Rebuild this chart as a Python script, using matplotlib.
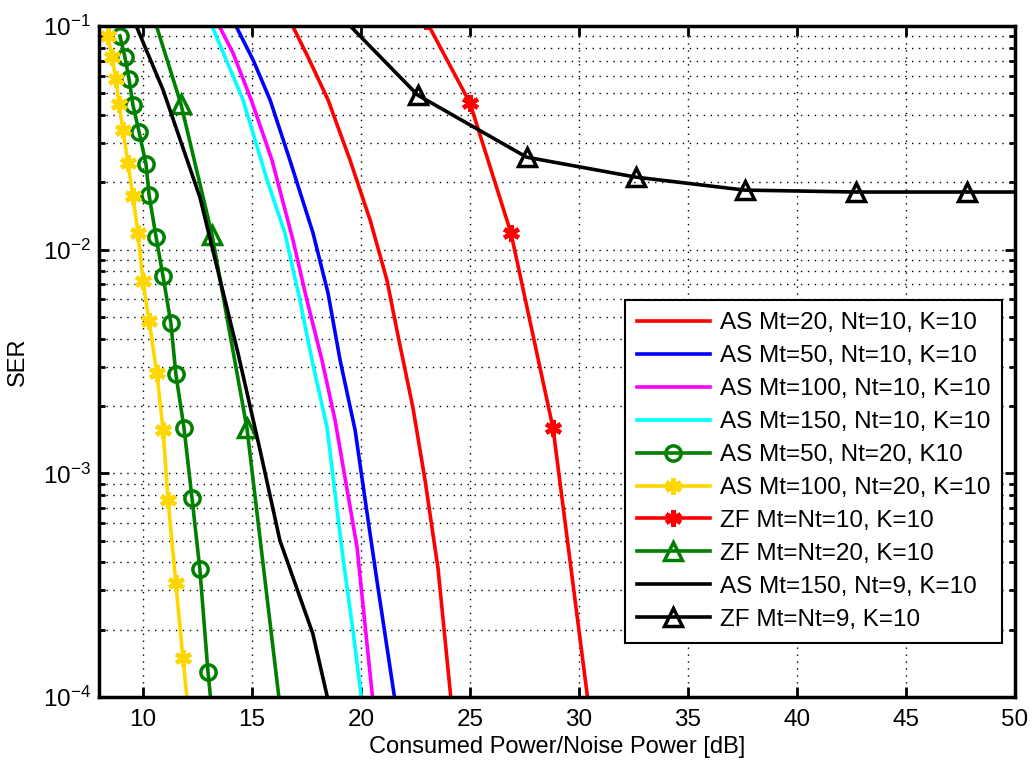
import matplotlib
matplotlib.use("Agg")
import matplotlib.pyplot as plt

# data ------------------------------------------------------------------
# AS curves, Nt=10, K=10
as20_x = [16.82, 17.57, 18.49, 19.50, 20.42, 21.19, 21.74, 22.38, 22.94, 23.39, 23.53, 24.14]
as20_y = [0.102, 0.0726, 0.0467, 0.0251, 0.01355, 0.00731, 0.00394, 0.00197, 0.00093, 0.000467, 0.000379, 9.5e-5]

as50_x = [14.22, 15.05, 15.83, 16.74, 17.80, 18.49, 19.04, 19.73, 20.28, 20.73, 21.57]
as50_y = [0.102, 0.0705, 0.0467, 0.0251, 0.01186, 0.00638, 0.00321, 0.00156, 0.000662, 0.000332, 9.5e-5]

as100_x = [13.45, 14.13, 15.00, 15.92, 16.88, 17.52, 18.21, 18.81, 19.82, 20.18, 20.55]
as100_y = [0.102, 0.0757, 0.0457, 0.0251, 0.01104, 0.00594, 0.00321, 0.00173, 0.000467, 0.000213, 9.5e-5]

as150_x = [13.13, 14.59, 15.05, 15.69, 16.51, 17.20, 17.75, 18.44, 19.17, 19.63, 20.04]
as150_y = [0.102, 0.0467, 0.0332, 0.0205, 0.01186, 0.00594, 0.00321, 0.00161, 0.000421, 0.000199, 9.5e-5]

# AS Mt=50, Nt=20
as50nt20_x = [8.94, 9.17, 9.36, 9.54, 9.82, 10.14, 10.28, 10.60, 10.92, 11.28, 11.51, 11.88, 12.25, 12.61, 12.98, 13.2]
as50nt20_y = [0.0902, 0.0727, 0.0579, 0.0443, 0.0336, 0.0241, 0.01754, 0.01138, 0.0076, 0.00469,
              0.00277, 0.0016, 0.000773, 0.000372, 0.00013, 7.9e-5]

# AS Mt=100, Nt=20
as100nt20_x = [8.39, 8.58, 8.76, 8.90, 9.08, 9.31, 9.54, 9.77, 10.0, 10.28, 10.64, 10.92, 11.15, 11.51, 11.83, 12.2]
as100nt20_y = [0.0902, 0.0727, 0.0579, 0.0448, 0.0343, 0.0244, 0.0173, 0.01186, 0.00723, 0.00479,
               0.0028, 0.00157, 0.000757, 0.000322, 0.00015, 6.6e-5]

# ZF curves
zf10_x = [23.0, 25.0, 26.88, 28.81, 30.7]
zf10_y = [0.105, 0.0452, 0.01186, 0.00159, 5.8e-5]

zf20_x = [10.2, 11.74, 13.17, 14.77, 16.35]
zf20_y = [0.135, 0.0448, 0.01161, 0.00159, 8e-5]

as150nt9_x = [9.6, 10.92, 12.61, 14.36, 15.37, 16.28, 17.79, 18.75]
as150nt9_y = [0.105, 0.0518, 0.01718, 0.00344, 0.00127, 0.000501, 0.000192, 7.5e-5]

zf9_x = [17.6, 22.6, 27.6, 32.6, 37.6, 42.7, 47.8, 52.9]
zf9_y = [0.155, 0.0491, 0.0259, 0.0211, 0.01846, 0.0181, 0.0181, 0.0181]

x_ticks = [10, 15, 20, 25, 30, 35, 40, 45, 50]

#------------------------------------------------------------------------
plt.rcParams['font.family'] = ['Liberation Sans', 'DejaVu Sans']
plt.rcParams['mathtext.default'] = 'regular'

fig = plt.figure(figsize=(10.33, 7.64), dpi=100)
ax = fig.add_axes([0.0962, 0.0877, 0.8864, 0.8783])

lw = 2.6
gold = '#FFD700'
green = '#008000'
ax.plot(as20_x, as20_y, color='red', lw=lw, label='AS Mt=20, Nt=10, K=10')
ax.plot(as50_x, as50_y, color='blue', lw=lw, label='AS Mt=50, Nt=10, K=10')
ax.plot(as100_x, as100_y, color='magenta', lw=lw, label='AS Mt=100, Nt=10, K=10')
ax.plot(as150_x, as150_y, color='cyan', lw=lw, label='AS Mt=150, Nt=10, K=10')
ax.plot(as50nt20_x, as50nt20_y, color=green, lw=lw, marker='o', ms=11, mfc='none', mew=2.5,
        label='AS Mt=50, Nt=20, K10')
ax.plot(as100nt20_x, as100nt20_y, color=gold, lw=lw, marker=(6, 2, 0), ms=12, mew=3.2,
        label='AS Mt=100, Nt=20, K=10')
ax.plot(zf10_x, zf10_y, color='red', lw=lw, marker=(6, 2, 0), ms=12, mew=3.2,
        label='ZF Mt=Nt=10, K=10')
ax.plot(zf20_x, zf20_y, color=green, lw=lw, marker='^', ms=13, mfc='none', mew=2.5,
        label='ZF Mt=Nt=20, K=10')
ax.plot(as150nt9_x, as150nt9_y, color='black', lw=lw, label='AS Mt=150, Nt=9, K=10')
ax.plot(zf9_x, zf9_y, color='black', lw=lw, marker='^', ms=13, mfc='none', mew=2.5,
        label='ZF Mt=Nt=9, K=10')

ax.set_yscale('log')
ax.set_xlim(8, 50)
ax.set_ylim(1e-4, 1e-1)
ax.set_xticks(x_ticks)

# matlab style dotted grid
ax.grid(True, which='major', axis='both', color='k', linestyle=(0, (1, 4)), linewidth=1.0)
ax.grid(True, which='minor', axis='y', color='k', linestyle=(0, (1, 4)), linewidth=1.0)

ax.tick_params(which='both', direction='in', top=True, right=True, labelsize=17.5, width=2)
ax.tick_params(which='major', length=7)
ax.tick_params(which='minor', length=4)
ax.tick_params(axis='x', pad=9)
ax.tick_params(axis='y', pad=6)
for s in ax.spines.values():
    s.set_linewidth(2.5)

ax.set_xlabel('Consumed Power/Noise Power [dB]', fontsize=17, labelpad=3)
ax.set_ylabel('SER', fontsize=17, labelpad=10)

leg = ax.legend(loc='lower right', bbox_to_anchor=(0.986, 0.0805), fontsize=17.5, frameon=True,
                fancybox=False, edgecolor='k', framealpha=1, handlelength=3.0,
                handletextpad=0.4, borderpad=0.5, labelspacing=0.45, borderaxespad=0)
leg.get_frame().set_linewidth(1.5)

plt.savefig('out.png', dpi=100)
